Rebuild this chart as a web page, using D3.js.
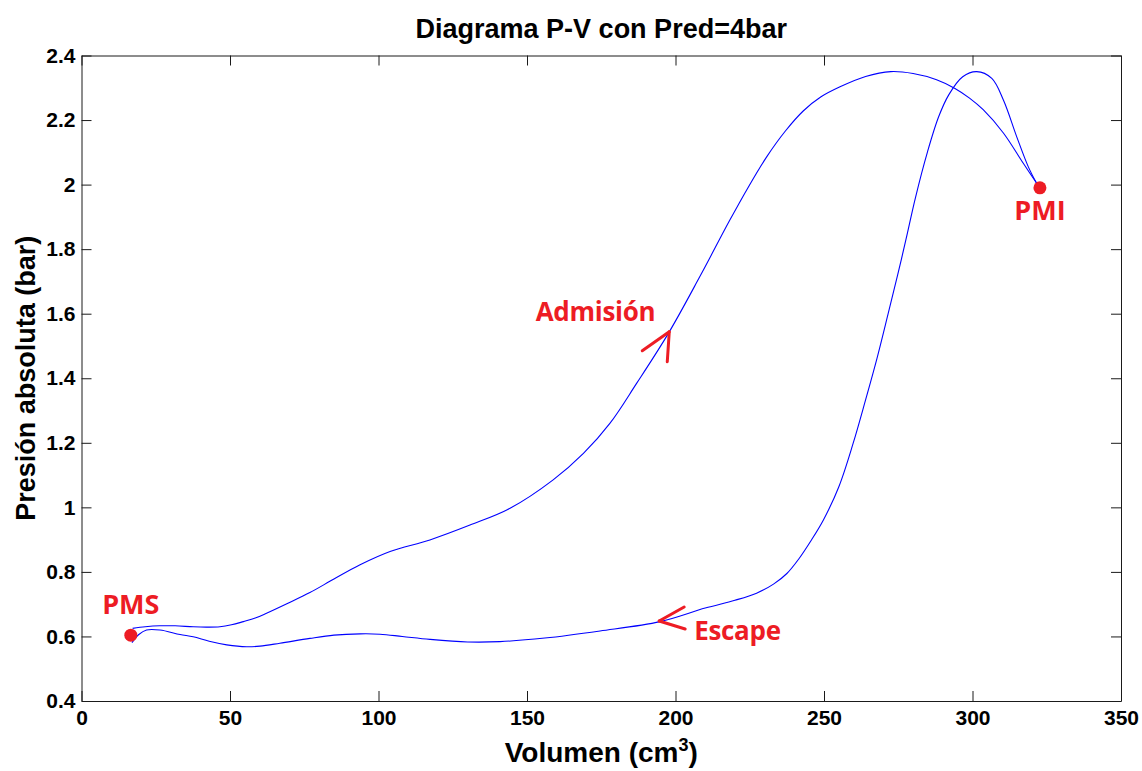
<!DOCTYPE html>
<html>
<head>
<meta charset="utf-8">
<script src="https://cdn.jsdelivr.net/npm/d3@7"></script>
<style>
  html, body { margin: 0; padding: 0; background: #fff; }
  svg { display: block; }
</style>
</head>
<body>
<svg id="chart" width="1142" height="771"></svg>
<script>
// P-V cycle of the engine, volume in cm3, absolute pressure in bar
const admisionV = [17.2, 21.5, 26.4, 31.5, 37.6, 42.0, 46.6, 50.5, 54.5, 58.5, 62.3, 69.5, 76.9, 85.0, 93.8, 103.9, 117.3, 130.8, 144.3, 158.8, 169.0, 177.9, 186.9, 197.6, 208.2, 218.3, 224.5, 230.7, 237.0, 243.0, 249.0, 255.4, 264.0, 272.5, 280.0, 287.9, 294.1, 299.0, 303.6, 310.4, 317.1, 321.6];
const admisionP = [0.625, 0.630, 0.633, 0.633, 0.630, 0.629, 0.630, 0.636, 0.646, 0.657, 0.672, 0.703, 0.736, 0.778, 0.822, 0.863, 0.899, 0.945, 0.997, 1.085, 1.167, 1.260, 1.384, 1.539, 1.715, 1.890, 1.992, 2.086, 2.166, 2.228, 2.272, 2.303, 2.335, 2.350, 2.344, 2.325, 2.298, 2.268, 2.232, 2.160, 2.066, 2.004];

const escapeV = [321.6, 318.8, 314.9, 310.4, 306.5, 301.4, 296.7, 292.0, 288.6, 284.8, 280.8, 277.6, 274.8, 271.6, 267.8, 264.0, 259.8, 255.0, 249.8, 245.5, 241.5, 237.5, 233.0, 227.3, 220.0, 210.0, 194.8, 174.6, 156.0, 140.9, 130.0, 117.3, 108.0, 100.5, 93.8, 85.0, 76.9, 66.8, 60.1, 55.6, 48.9, 43.0, 37.6, 33.2, 26.4, 21.9, 19.3, 17.0];
const escapeP = [2.004, 2.055, 2.148, 2.262, 2.329, 2.350, 2.334, 2.278, 2.210, 2.100, 1.960, 1.830, 1.720, 1.600, 1.460, 1.333, 1.198, 1.064, 0.961, 0.895, 0.840, 0.795, 0.762, 0.734, 0.712, 0.688, 0.646, 0.617, 0.595, 0.584, 0.583, 0.591, 0.600, 0.607, 0.608, 0.604, 0.594, 0.579, 0.570, 0.568, 0.574, 0.585, 0.599, 0.606, 0.620, 0.620, 0.606, 0.581];

// dead centres
const pms = { V: 16.6, P: 0.604, label: "PMS" };
const pmi = { V: 322.7, P: 1.990, label: "PMI" };

// direction markers along each stroke
const admisionArrow = { V: 197.9, P: 1.544, label: "Admisión" };
const escapeArrow = { V: 194.5, P: 0.648, label: "Escape" };

const xTicks = [0, 50, 100, 150, 200, 250, 300, 350];
const yTicks = [0.4, 0.6, 0.8, 1, 1.2, 1.4, 1.6, 1.8, 2, 2.2, 2.4];

const titleText = "Diagrama P-V con Pred=4bar";
const yLabelText = "Presión absoluta (bar)";

const svg = d3.select("#chart");
const plotLeft = 81.5, plotRight = 1121, plotTop = 55.5, plotBottom = 701;

const x = d3.scaleLinear().domain([0, 350]).range([plotLeft, plotRight]);
const y = d3.scaleLinear().domain([0.4, 2.4]).range([plotBottom, plotTop]);

const red = "#ed1c24";
const tickFont = "'Liberation Sans', Arial, Helvetica, sans-serif";

// axes: ticks point inward, mirrored on top and right
function styleAxis(g) {
  g.selectAll("path.domain").attr("stroke", "#1a1a1a").attr("stroke-width", 1);
  g.selectAll(".tick line").attr("stroke", "#1a1a1a").attr("stroke-width", 1);
  g.selectAll("text")
    .attr("font-family", tickFont)
    .attr("font-weight", "bold")
    .attr("font-size", 21)
    .attr("fill", "#000");
}

svg.append("g")
  .attr("transform", `translate(0,${plotBottom})`)
  .call(d3.axisBottom(x).tickValues(xTicks).tickSize(-10).tickSizeOuter(0).tickPadding(9).tickFormat(d3.format("d")))
  .call(styleAxis);

svg.append("g")
  .attr("transform", `translate(0,${plotTop})`)
  .call(d3.axisTop(x).tickValues(xTicks).tickSize(-10).tickSizeOuter(0).tickFormat(""))
  .call(styleAxis);

svg.append("g")
  .attr("transform", `translate(${plotLeft},0)`)
  .call(d3.axisLeft(y).tickValues(yTicks).tickSize(-10).tickSizeOuter(0).tickPadding(6).tickFormat(d => String(+d.toFixed(1))))
  .call(styleAxis);

svg.append("g")
  .attr("transform", `translate(${plotRight},0)`)
  .call(d3.axisRight(y).tickValues(yTicks).tickSize(-10).tickSizeOuter(0).tickFormat(""))
  .call(styleAxis);

// cycle strokes
const line = d3.line()
  .x(d => x(d[0]))
  .y(d => y(d[1]))
  .curve(d3.curveCatmullRom.alpha(0.5));

const admision = admisionV.map((v, i) => [v, admisionP[i]]);
const escape = escapeV.map((v, i) => [v, escapeP[i]]);

[admision, escape].forEach(series => {
  svg.append("path")
    .datum(series)
    .attr("d", line)
    .attr("fill", "none")
    .attr("stroke", "#0000ff")
    .attr("stroke-width", 1.1);
});

// dead centre dots and labels
const labelFont = "'Open Sans', 'Noto Sans', sans-serif";
[
  { p: pms, dy: -21 },
  { p: pmi, dy: 32 }
].forEach(({ p, dy }) => {
  svg.append("circle")
    .attr("cx", x(p.V)).attr("cy", y(p.P)).attr("r", 6.5)
    .attr("fill", red);
  svg.append("text")
    .attr("x", x(p.V)).attr("y", y(p.P) + dy)
    .attr("text-anchor", "middle")
    .attr("font-family", labelFont).attr("font-weight", "bold").attr("font-size", 27)
    .attr("fill", red)
    .text(p.label);
});

// hand-drawn arrow heads and stroke names
function arrowHead(a, barbs) {
  const tx = x(a.V), ty = y(a.P);
  barbs.forEach(([dx, dy]) => {
    svg.append("line")
      .attr("x1", tx).attr("y1", ty)
      .attr("x2", tx + dx).attr("y2", ty + dy)
      .attr("stroke", red).attr("stroke-width", 3)
      .attr("stroke-linecap", "round");
  });
}

arrowHead(admisionArrow, [[-27, 19], [-2, 30]]);
arrowHead(escapeArrow, [[25, -14], [26, 8]]);

svg.append("text")
  .attr("x", x(admisionArrow.V) - 14).attr("y", y(admisionArrow.P) - 11)
  .attr("text-anchor", "end")
  .attr("font-family", labelFont).attr("font-weight", "bold").attr("font-size", 26)
  .attr("letter-spacing", -0.3)
  .attr("fill", red)
  .text(admisionArrow.label);

svg.append("text")
  .attr("x", x(escapeArrow.V) + 35).attr("y", y(escapeArrow.P) + 19)
  .attr("text-anchor", "start")
  .attr("font-family", labelFont).attr("font-weight", "bold").attr("font-size", 26)
  .attr("letter-spacing", -0.3)
  .attr("fill", red)
  .text(escapeArrow.label);

// title and axis labels
svg.append("text")
  .attr("x", (plotLeft + plotRight) / 2).attr("y", 38)
  .attr("text-anchor", "middle")
  .attr("font-family", tickFont).attr("font-weight", "bold").attr("font-size", 27)
  .attr("fill", "#000")
  .text(titleText);

const xLabel = svg.append("text")
  .attr("x", (plotLeft + plotRight) / 2).attr("y", 762)
  .attr("text-anchor", "middle")
  .attr("font-family", tickFont).attr("font-weight", "bold").attr("font-size", 28)
  .attr("fill", "#000");
xLabel.append("tspan").text("Volumen (cm");
xLabel.append("tspan").attr("dy", -11).attr("font-size", 18).text("3");
xLabel.append("tspan").attr("dy", 11).text(")");

svg.append("text")
  .attr("transform", `translate(35,${(plotTop + plotBottom) / 2}) rotate(-90)`)
  .attr("text-anchor", "middle")
  .attr("font-family", tickFont).attr("font-weight", "bold").attr("font-size", 27)
  .attr("fill", "#000")
  .text(yLabelText);
</script>
</body>
</html>
